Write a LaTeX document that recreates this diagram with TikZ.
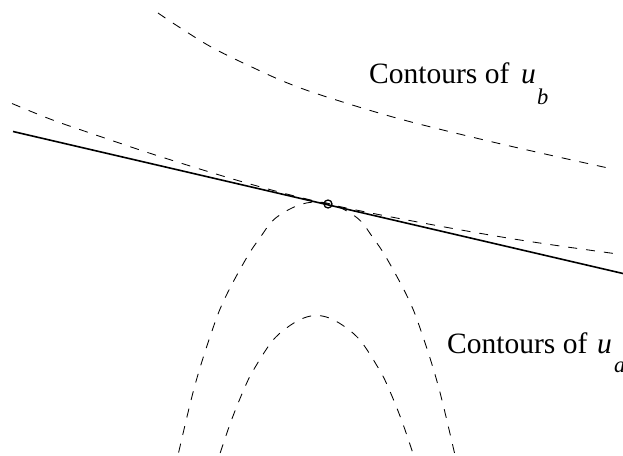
\documentclass[tikz,border=0pt]{standalone}
\usepackage{fontspec}
\setmainfont{Liberation Serif}
\begin{document}
\begin{tikzpicture}[x=1pt,y=-1pt,
  contour/.style={draw=black,line width=0.85pt,dash pattern=on 9pt off 9pt},
  budget/.style={draw=black,line width=1.6pt},
  lbl/.style={inner sep=0pt,anchor=base west,font=\fontsize{29.5}{35}\selectfont},
  sub/.style={inner sep=0pt,anchor=base west,font=\fontsize{22.5}{27}\selectfont\itshape}]
\useasboundingbox (0,0) rectangle (623,455);
\begin{scope}
\clip (0,0) rectangle (623,455);
% upper contour of u_b
\draw[contour] plot[smooth,tension=0.6] coordinates {(158,13) (179,27) (213,48) (256,69) (290,84) (330,98) (400,119) (480,139) (545,154) (608,168)};
% tangent contour of u_b
\draw[contour] plot[smooth,tension=0.6] coordinates {(12,103.5) (50,119) (90,133) (160,156.5) (250,184) (328,204) (423,223) (520,240) (614,253.5)};
% outer contour of u_a
\draw[contour] plot[smooth,tension=0.6] coordinates {(174.5,470) (178,455) (195,385) (213,328) (225.5,297) (246.5,258) (260.5,237) (274.5,219) (296.5,206) (316.5,202) (336.5,206) (358.5,219) (372.5,237) (386.5,258) (407.5,297) (420,328) (438,385) (455,455) (458.5,470)};
% inner contour of u_a
\draw[contour] plot[smooth,tension=0.6] coordinates {(214.5,470) (219.5,455) (231.5,420) (244.5,388) (253.5,370) (271.5,342) (286.5,328) (302.5,318.5) (316.5,315.5) (330.5,318.5) (346.5,328) (361.5,342) (379.5,370) (388.5,388) (401.5,420) (413.5,455) (418.5,470)};
\end{scope}
% budget line
\coordinate (bl) at (13,131.5);
\coordinate (br) at (623,273.5);
\draw[budget] (bl) -- (br);
% tangency point
\node[circle,draw=black,line width=1.3pt,minimum size=8pt,inner sep=0pt] (tp) at (328,204) {};
% labels
\node[lbl] (lb) at (369,83) {Contours of};
\node[lbl] (ub) at (521,83) {\itshape u};
\node[sub] (sb) at (537,104) {b};
\node[lbl] (la) at (447,353) {Contours of};
\node[lbl] (ua) at (597,353) {\itshape u};
\node[sub] (sa) at (614,372) {a};
\end{tikzpicture}
\end{document}
